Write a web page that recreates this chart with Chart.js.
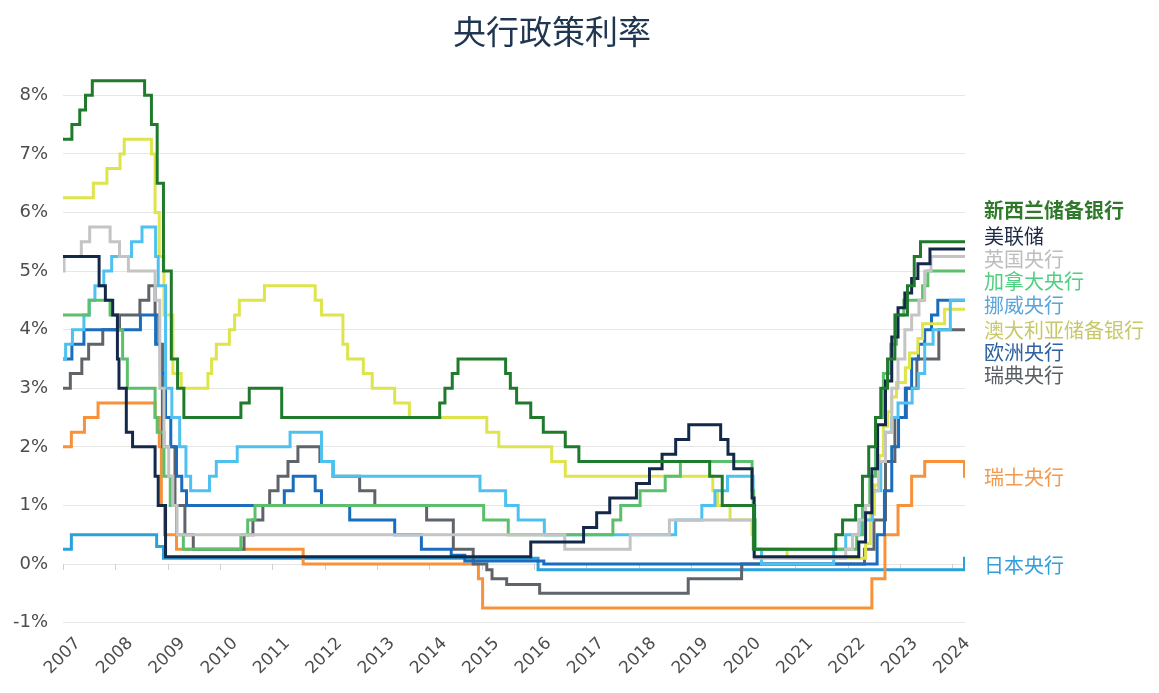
<!DOCTYPE html>
<html>
<head>
<meta charset="utf-8">
<script src="https://cdn.jsdelivr.net/npm/chart.js@4.4.1/dist/chart.umd.min.js"></script>
<style>
html,body{margin:0;padding:0;background:#ffffff;}
#wrap{position:relative;width:1159px;height:693px;}
</style>
</head>
<body>
<div id="wrap"><canvas id="c" width="1159" height="693"></canvas></div>
<script>
// ---------- data ----------
const chartTitle = '央行政策利率';
const yearTicks = [2007,2008,2009,2010,2011,2012,2013,2014,2015,2016,2017,2018,2019,2020,2021,2022,2023,2024];
const rateTicks = [-1,0,1,2,3,4,5,6,7,8];
const bankNames = ['新西兰储备银行','美联储','英国央行','加拿大央行','挪威央行','澳大利亚储备银行','欧洲央行','瑞典央行','瑞士央行','日本央行'];

// [year, policy rate %] at each change
const nzRate = [[2007.00,7.25],[2007.17,7.5],[2007.32,7.75],[2007.43,8.0],[2007.56,8.25],[2008.56,8.0],[2008.69,7.5],[2008.80,6.5],[2008.92,5.0],[2009.07,3.5],[2009.19,3.0],[2009.31,2.5],[2010.40,2.75],[2010.56,3.0],[2011.18,2.5],[2014.20,2.75],[2014.30,3.0],[2014.44,3.25],[2014.55,3.5],[2015.46,3.25],[2015.55,3.0],[2015.67,2.75],[2015.94,2.5],[2016.18,2.25],[2016.60,2.0],[2016.86,1.75],[2019.36,1.5],[2019.60,1.0],[2020.20,0.25],[2021.77,0.5],[2021.90,0.75],[2022.15,1.0],[2022.28,1.5],[2022.40,2.0],[2022.53,2.5],[2022.63,3.0],[2022.76,3.5],[2022.90,4.25],[2023.14,4.75],[2023.27,5.25],[2023.39,5.5],[2024.24,5.5]];
const usRate = [[2007.00,5.25],[2007.69,4.75],[2007.81,4.5],[2007.95,4.25],[2008.04,3.5],[2008.07,3.0],[2008.21,2.25],[2008.33,2.0],[2008.76,1.5],[2008.82,1.0],[2008.96,0.125],[2015.94,0.375],[2016.95,0.625],[2017.20,0.875],[2017.45,1.125],[2017.96,1.375],[2018.21,1.625],[2018.45,1.875],[2018.71,2.125],[2018.96,2.375],[2019.57,2.125],[2019.71,1.875],[2019.82,1.625],[2020.17,1.125],[2020.21,0.125],[2022.21,0.375],[2022.34,0.875],[2022.46,1.625],[2022.57,2.375],[2022.72,3.125],[2022.84,3.875],[2022.96,4.375],[2023.09,4.625],[2023.22,4.875],[2023.34,5.125],[2023.57,5.375],[2024.24,5.375]];
const ukRate = [[2007.00,5.0],[2007.02,5.25],[2007.35,5.5],[2007.51,5.75],[2007.90,5.5],[2008.08,5.25],[2008.25,5.0],[2008.76,4.5],[2008.85,3.0],[2008.93,2.0],[2009.02,1.5],[2009.10,1.0],[2009.18,0.5],[2016.59,0.25],[2017.84,0.5],[2018.59,0.75],[2020.19,0.25],[2020.22,0.1],[2021.96,0.25],[2022.09,0.5],[2022.21,0.75],[2022.34,1.0],[2022.46,1.25],[2022.59,1.75],[2022.72,2.25],[2022.84,3.0],[2022.96,3.5],[2023.09,4.0],[2023.22,4.25],[2023.36,4.5],[2023.47,5.0],[2023.59,5.25],[2024.24,5.25]];
const caRate = [[2007.00,4.25],[2007.50,4.5],[2007.90,4.25],[2008.05,4.0],[2008.14,3.5],[2008.23,3.0],[2008.76,2.5],[2008.80,2.25],[2008.93,1.5],[2009.05,1.0],[2009.17,0.5],[2009.30,0.25],[2010.40,0.5],[2010.53,0.75],[2010.67,1.0],[2015.04,0.75],[2015.51,0.5],[2017.51,0.75],[2017.66,1.0],[2018.03,1.25],[2018.51,1.5],[2018.80,1.75],[2020.17,1.25],[2020.20,0.75],[2020.23,0.25],[2022.17,0.5],[2022.28,1.0],[2022.42,1.5],[2022.53,2.5],[2022.68,3.25],[2022.82,3.75],[2022.93,4.25],[2023.07,4.5],[2023.43,4.75],[2023.53,5.0],[2024.24,5.0]];
const noRate = [[2007.00,3.5],[2007.05,3.75],[2007.18,4.0],[2007.40,4.25],[2007.50,4.5],[2007.61,4.75],[2007.78,5.0],[2007.93,5.25],[2008.31,5.5],[2008.51,5.75],[2008.77,5.25],[2008.82,4.75],[2008.96,3.0],[2009.08,2.5],[2009.23,2.0],[2009.35,1.5],[2009.44,1.25],[2009.80,1.5],[2009.93,1.75],[2010.33,2.0],[2011.34,2.25],[2011.94,1.75],[2012.17,1.5],[2014.97,1.25],[2015.46,1.0],[2015.70,0.75],[2016.20,0.5],[2018.71,0.75],[2019.21,1.0],[2019.46,1.25],[2019.70,1.5],[2020.19,1.0],[2020.22,0.25],[2020.35,0.0],[2021.73,0.25],[2021.96,0.5],[2022.22,0.75],[2022.47,1.25],[2022.63,1.75],[2022.72,2.25],[2022.84,2.5],[2022.96,2.75],[2023.23,3.0],[2023.35,3.25],[2023.47,3.75],[2023.63,4.0],[2023.96,4.5],[2024.24,4.5]];
const auRate = [[2007.00,6.25],[2007.58,6.5],[2007.84,6.75],[2008.09,7.0],[2008.17,7.25],[2008.69,7.0],[2008.76,6.0],[2008.84,5.25],[2008.93,4.25],[2009.10,3.25],[2009.26,3.0],[2009.77,3.25],[2009.84,3.5],[2009.93,3.75],[2010.18,4.0],[2010.28,4.25],[2010.37,4.5],[2010.85,4.75],[2011.82,4.5],[2011.94,4.25],[2012.35,3.75],[2012.44,3.5],[2012.74,3.25],[2012.91,3.0],[2013.34,2.75],[2013.62,2.5],[2015.10,2.25],[2015.33,2.0],[2016.34,1.75],[2016.60,1.5],[2019.42,1.25],[2019.51,1.0],[2019.75,0.75],[2020.17,0.5],[2020.22,0.25],[2020.84,0.1],[2022.34,0.35],[2022.43,0.85],[2022.51,1.35],[2022.60,1.85],[2022.68,2.35],[2022.76,2.6],[2022.84,2.85],[2022.93,3.1],[2023.10,3.35],[2023.18,3.6],[2023.34,3.85],[2023.43,4.1],[2023.85,4.35],[2024.24,4.35]];
const euRate = [[2007.00,3.5],[2007.17,3.75],[2007.40,4.0],[2008.48,4.25],[2008.77,3.75],[2008.86,3.25],[2008.96,2.5],[2009.06,2.0],[2009.17,1.5],[2009.27,1.25],[2009.36,1.0],[2011.23,1.25],[2011.40,1.5],[2011.82,1.25],[2011.94,1.0],[2012.48,0.75],[2013.34,0.5],[2013.85,0.25],[2014.42,0.15],[2014.68,0.05],[2016.19,0.0],[2022.56,0.5],[2022.70,1.25],[2022.84,2.0],[2022.97,2.5],[2023.10,3.0],[2023.22,3.5],[2023.35,3.75],[2023.47,4.0],[2023.60,4.25],[2023.72,4.5],[2024.24,4.5]];
const seRate = [[2007.00,3.0],[2007.14,3.25],[2007.36,3.5],[2007.49,3.75],[2007.76,4.0],[2008.08,4.25],[2008.47,4.5],[2008.64,4.75],[2008.76,4.25],[2008.83,3.75],[2008.90,2.0],[2009.14,1.0],[2009.33,0.5],[2009.49,0.25],[2010.46,0.5],[2010.63,0.75],[2010.82,1.0],[2010.95,1.25],[2011.11,1.5],[2011.30,1.75],[2011.49,2.0],[2011.91,1.75],[2012.16,1.5],[2012.67,1.25],[2012.96,1.0],[2013.95,0.75],[2014.46,0.25],[2014.84,0.0],[2015.10,-0.1],[2015.20,-0.25],[2015.48,-0.35],[2016.11,-0.5],[2018.95,-0.25],[2019.97,0.0],[2022.32,0.25],[2022.50,0.75],[2022.72,1.75],[2022.90,2.5],[2023.12,3.0],[2023.32,3.5],[2023.74,4.0],[2024.24,4.0]];
const chRate = [[2007.00,2.0],[2007.16,2.25],[2007.41,2.5],[2007.67,2.75],[2008.76,2.5],[2008.84,2.0],[2008.88,1.0],[2008.94,0.5],[2009.17,0.25],[2011.59,0.0],[2014.94,-0.25],[2015.02,-0.75],[2022.46,-0.25],[2022.71,0.5],[2022.96,1.0],[2023.22,1.5],[2023.47,1.75],[2024.23,1.5],[2024.24,1.5]];
const jpRate = [[2007.00,0.25],[2007.16,0.5],[2008.79,0.3],[2008.92,0.1],[2016.08,-0.1],[2024.23,0.1],[2024.24,0.1]];

const seriesList = [nzRate, usRate, ukRate, caRate, noRate, auRate, euRate, seRate, chRate, jpRate];

// ---------- styles ----------
const lineColors  = ['#1f7a2c','#14284a','#c4c4c4','#5cbf6c','#4fc1f0','#dde44c','#1a6cbf','#5f646a','#f7923a','#2aa0dc'];
const labelColors = ['#2f7a2a','#1c2b45','#bdbdbd','#4fcf80','#5aa5dc','#c8c86a','#2f63a0','#5a5f66','#f39a4f','#2fa0dd'];
const labelAnchors = [6.03,5.60,5.205,4.815,4.42,3.995,3.615,3.225,1.47,-0.03];

const titlePlugin = {
  id:'titleText',
  afterDraw(chart){
    const ctx = chart.ctx;
    ctx.save();
    ctx.font = '33px "Noto Sans CJK SC", sans-serif';
    ctx.fillStyle = '#1f3550';
    ctx.textAlign = 'center';
    ctx.textBaseline = 'middle';
    ctx.fillText(chartTitle, 552, 31);
    ctx.restore();
  }
};

const endLabelPlugin = {
  id:'endLabels',
  afterDraw(chart){
    const ctx = chart.ctx;
    const ys = chart.scales.y;
    const x0 = chart.chartArea.right + 19;
    ctx.save();
    ctx.textAlign = 'left';
    ctx.textBaseline = 'middle';
    bankNames.forEach((name,i)=>{
      ctx.font = (i===0 ? 'bold ' : '') + '20px "Noto Sans CJK SC", sans-serif';
      ctx.fillStyle = labelColors[i];
      ctx.fillText(name, x0, ys.getPixelForValue(labelAnchors[i]));
    });
    ctx.restore();
  }
};

const zeroTickPlugin = {
  id:'zeroTicks',
  beforeDatasetsDraw(chart){
    const ctx = chart.ctx;
    const xs = chart.scales.x, ys = chart.scales.y;
    const y0 = ys.getPixelForValue(0);
    ctx.save();
    ctx.strokeStyle = '#d0d0d0';
    ctx.lineWidth = 1;
    ctx.beginPath();
    yearTicks.forEach(v=>{
      const x = Math.round(xs.getPixelForValue(v)) + 0.5;
      ctx.moveTo(x, y0);
      ctx.lineTo(x, y0 + 6);
    });
    ctx.stroke();
    ctx.restore();
  }
};

Chart.defaults.font.family = '"DejaVu Sans", "Noto Sans", sans-serif';

new Chart(document.getElementById('c'), {
  type:'line',
  data:{
    datasets: seriesList.map((s,i)=>({
      label: bankNames[i],
      data: s.map(p=>({x:p[0], y:p[1]})),
      borderColor: lineColors[i],
      backgroundColor: lineColors[i],
      borderWidth: 3,
      stepped: true,
      pointRadius: 0,
      fill: false
    }))
  },
  options:{
    responsive:false,
    animation:false,
    layout:{padding:{top:66,right:194,bottom:0,left:0}},
    plugins:{legend:{display:false}, tooltip:{enabled:false}, title:{display:false}},
    scales:{
      x:{
        type:'linear',
        min:2007, max:2024.24,
        afterBuildTicks:(s)=>{ s.ticks = yearTicks.map(v=>({value:v})); },
        afterFit:(s)=>{ s.height = 70.4; },
        grid:{display:false},
        border:{display:false},
        ticks:{autoSkip:false, minRotation:45, maxRotation:45, padding:3, labelOffset:15,
               color:'#4d4d4d', font:{size:17}, callback:(v)=>String(v)}
      },
      y:{
        min:-1, max:8.5,
        afterBuildTicks:(s)=>{ s.ticks = rateTicks.map(v=>({value:v})); },
        afterFit:(s)=>{ s.width = 63; },
        grid:{color:'#e6e6e6', lineWidth:1, drawTicks:false},
        border:{display:false},
        ticks:{padding:15, color:'#4d4d4d', font:{size:18}, callback:(v)=>v+'%'}
      }
    }
  },
  plugins:[zeroTickPlugin, titlePlugin, endLabelPlugin]
});
</script>
</body>
</html>
